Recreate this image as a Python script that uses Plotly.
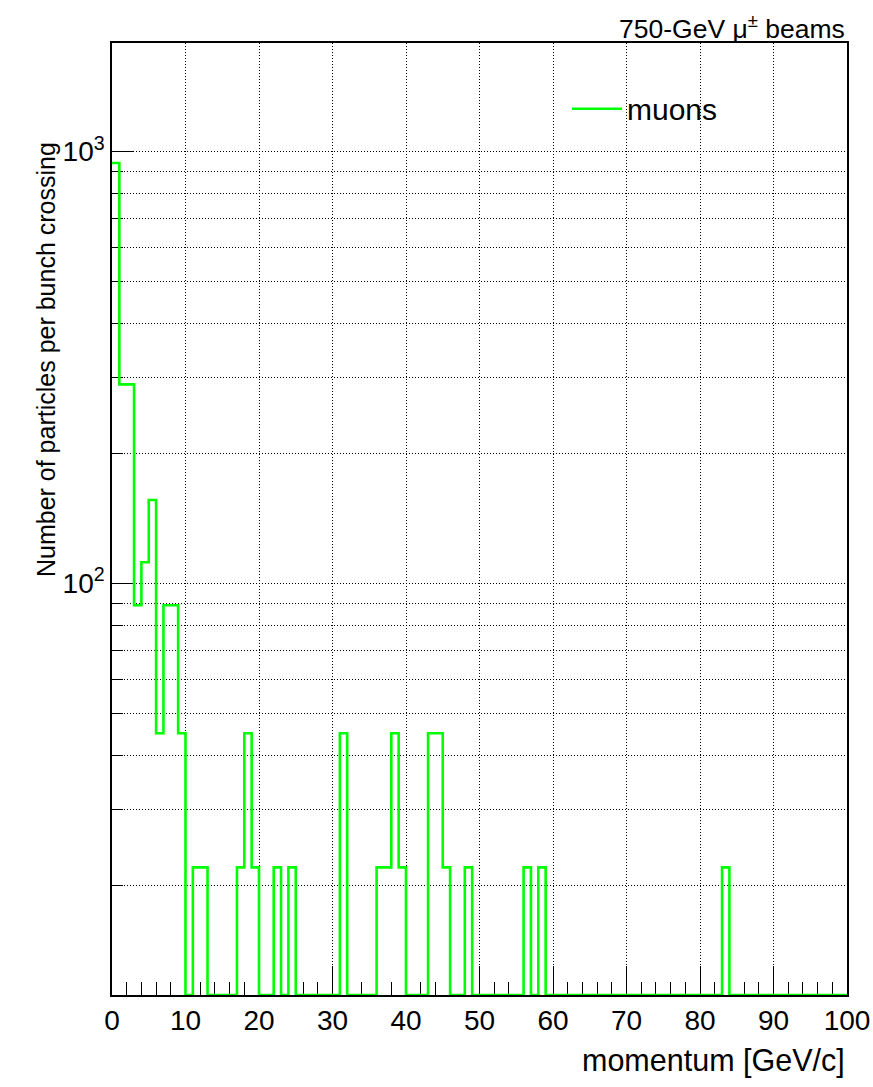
import numpy as np
import plotly.graph_objects as go

# Momentum histogram: 1 GeV/c bins from 0 to 100 GeV/c
bin_edges = list(range(0, 101))
counts = [
    941, 289, 289, 89, 112, 156, 45, 89, 89, 45,      # 0-10
    0, 22, 22, 0, 0, 0, 0, 22, 45, 22,                # 10-20
    0, 0, 22, 0, 22, 0, 0, 0, 0, 0,                   # 20-30
    0, 45, 0, 0, 0, 0, 22, 22, 45, 22,                # 30-40
    0, 0, 0, 45, 45, 22, 0, 0, 22, 0,                 # 40-50
    0, 0, 0, 0, 0, 0, 22, 0, 22, 0,                   # 50-60
    0, 0, 0, 0, 0, 0, 0, 0, 0, 0,                     # 60-70
    0, 0, 0, 0, 0, 0, 0, 0, 0, 0,                     # 70-80
    0, 0, 0, 22, 0, 0, 0, 0, 0, 0,                    # 80-90
    0, 0, 0, 0, 0, 0, 0, 0, 0, 0,                     # 90-100
]
series_name = "muons"

x_ticks = list(range(0, 101, 10))
y_major = [100, 1000]
y_major_text = ["10<sup>2</sup>", "10<sup>3</sup>"]
y_minor = [20, 30, 40, 50, 60, 70, 80, 90, 200, 300, 400, 500, 600, 700, 800, 900]

# log10 range of the vertical axis
y_range = [1.047, 3.2514]
y_floor = 10 ** y_range[0]

# empty bins sit on the bottom of the frame, as on a log-scale histogram
plot_counts = [c if c > 0 else y_floor for c in counts]
step_y = plot_counts + [plot_counts[-1]]

FONT = "Liberation Sans, Arial, Helvetica, sans-serif"
GREEN = "#00ff00"

fig = go.Figure()
fig.add_trace(go.Scatter(
    x=bin_edges, y=step_y, mode="lines", line_shape="hv",
    line=dict(color=GREEN, width=2.6), name=series_name,
    showlegend=True,
))

fig.update_layout(
    width=873, height=1087,
    margin=dict(l=112, r=26, t=43, b=92),
    paper_bgcolor="white", plot_bgcolor="white",
    font=dict(family=FONT, color="black"),
    showlegend=True,
    legend=dict(
        x=0.619, y=0.931, xanchor="left", yanchor="middle",
        bgcolor="rgba(0,0,0,0)", borderwidth=0,
        font=dict(size=30, family=FONT), itemwidth=50,
    ),
    xaxis=dict(
        range=[0, 100], tickvals=x_ticks, ticks="inside", ticklen=29,
        tickwidth=1.2, tickcolor="black", automargin=False,
        showline=True, linecolor="black", linewidth=1.5, mirror=True,
        showgrid=True, gridcolor="black", gridwidth=1, griddash="1px,2px",
        tickfont=dict(size=28, family=FONT), zeroline=False,
        minor=dict(dtick=2, ticks="inside", ticklen=13, tickwidth=1.2,
                   tickcolor="black", showgrid=False),
        layer="below traces",
    ),
    yaxis=dict(
        type="log", range=y_range, automargin=False,
        tickvals=y_major, ticktext=y_major_text,
        ticks="inside", ticklen=22, tickwidth=1.2, tickcolor="black",
        showline=True, linecolor="black", linewidth=1.5, mirror=True,
        showgrid=True, gridcolor="black", gridwidth=1, griddash="1px,2px",
        tickfont=dict(size=28, family=FONT), zeroline=False,
        minor=dict(tickmode="array", tickvals=y_minor, ticks="inside",
                   ticklen=11, tickwidth=1.2, tickcolor="black",
                   showgrid=True, gridcolor="black", gridwidth=1,
                   griddash="1px,2px"),
        layer="below traces",
    ),
)

fig.add_annotation(
    text="750-GeV \u03bc<sup>\u00b1</sup> beams", xref="paper", yref="paper",
    x=1.0, y=1.0168, xanchor="right", yanchor="middle", showarrow=False,
    font=dict(size=26.5, family=FONT),
)
fig.add_annotation(
    text="Number of particles per bunch crossing", xref="paper", yref="paper",
    x=-0.0898, y=0.668, xanchor="center", yanchor="middle", textangle=-90,
    showarrow=False, font=dict(size=25, family=FONT),
)
fig.add_annotation(
    text="momentum [GeV/c]", xref="paper", yref="paper",
    x=1.0, y=-0.0690, xanchor="right", yanchor="middle", showarrow=False,
    font=dict(size=30.5, family=FONT),
)

fig.write_html("out.html")
